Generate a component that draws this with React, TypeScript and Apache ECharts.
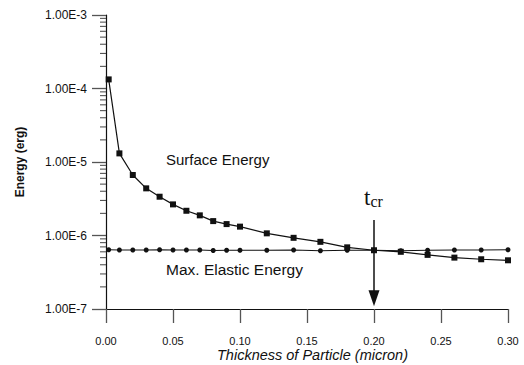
import React, { useEffect, useRef } from "react";
import * as echarts from "echarts";

const thickness = [0.002, 0.01, 0.02, 0.03, 0.04, 0.05, 0.06, 0.07, 0.08, 0.09, 0.1, 0.12, 0.14, 0.16, 0.18, 0.2, 0.22, 0.24, 0.26, 0.28, 0.3];
const surfaceEnergy = [1.33e-4, 1.31e-5, 6.65e-6, 4.38e-6, 3.37e-6, 2.65e-6, 2.17e-6, 1.88e-6, 1.57e-6, 1.43e-6, 1.32e-6, 1.07e-6, 9.3e-7, 8.2e-7, 6.9e-7, 6.3e-7, 6.0e-7, 5.45e-7, 5.0e-7, 4.75e-7, 4.6e-7];
const elasticEnergy = [6.4e-7, 6.35e-7, 6.35e-7, 6.35e-7, 6.4e-7, 6.35e-7, 6.35e-7, 6.35e-7, 6.25e-7, 6.3e-7, 6.3e-7, 6.3e-7, 6.35e-7, 6.2e-7, 6.3e-7, 6.3e-7, 6.2e-7, 6.3e-7, 6.35e-7, 6.35e-7, 6.4e-7];
const yMinorTickValues: number[] = [];
for (let e = -7; e < -3; e++) {
  for (let m = 2; m <= 9; m++) yMinorTickValues.push(m * Math.pow(10, e));
}
const arrowFrom = [0.2, 1.63e-6];
const arrowTo = [0.2, 1.4e-7];

const FONT = "Liberation Sans, Arial, sans-serif";
const INK = "#111111";
const TICK = "#555555";

export default function App() {
  const ref = useRef<HTMLDivElement>(null);
  useEffect(() => {
    const chart = echarts.init(ref.current!, null, { renderer: "svg" });
    chart.setOption({
      animation: false,
      grid: { left: 106, right: 16, top: 15, bottom: 56 },
      xAxis: {
        type: "value",
        min: 0,
        max: 0.3,
        interval: 0.05,
        axisLine: { show: true, lineStyle: { color: INK, width: 1.2 } },
        axisTick: { show: true, length: 14, lineStyle: { color: TICK, width: 1.3 } },
        splitLine: { show: false },
        axisLabel: {
          margin: 26,
          color: INK,
          fontFamily: FONT,
          fontSize: 11,
          formatter: (v: number) => v.toFixed(2),
        },
      },
      yAxis: {
        type: "log",
        logBase: 10,
        min: 1e-7,
        max: 1e-3,
        axisLine: { show: true, lineStyle: { color: INK, width: 1.2 } },
        axisTick: { show: true, length: 14, lineStyle: { color: TICK, width: 1.3 } },
        splitLine: { show: false },
        axisLabel: {
          margin: 19,
          color: INK,
          fontFamily: FONT,
          fontSize: 12,
          formatter: (v: number) => "1.00E-" + Math.abs(Math.round(Math.log10(v))),
        },
        name: "Energy (erg)",
        nameLocation: "middle",
        nameGap: 80,
        nameRotate: 90,
        nameTextStyle: { color: INK, fontFamily: FONT, fontSize: 12, fontWeight: "bold" },
      },
      graphic: [
        {
          type: "text",
          left: 217,
          top: 347,
          style: { text: "Thickness of Particle (micron)", fontFamily: FONT, fontSize: 14.5, fontStyle: "italic", fill: INK },
        },
        {
          type: "text",
          left: 166,
          top: 152,
          style: { text: "Surface Energy", fontFamily: FONT, fontSize: 15, fill: INK },
        },
        {
          type: "text",
          left: 166,
          top: 261,
          style: { text: "Max. Elastic Energy", fontFamily: FONT, fontSize: 15.5, fill: INK },
        },
        {
          type: "text",
          left: 364,
          top: 186,
          style: {
            text: "{t|t}{c|cr}",
            rich: {
              t: { fontFamily: "Liberation Serif, serif", fontSize: 23, fill: INK, verticalAlign: "bottom" },
              c: { fontFamily: "Liberation Serif, serif", fontSize: 16, fill: INK, verticalAlign: "bottom" },
            },
          },
        },
      ],
      series: [
        {
          name: "Surface Energy",
          type: "line",
          data: thickness.map((x, i) => [x, surfaceEnergy[i]]),
          symbol: "rect",
          symbolSize: 6,
          lineStyle: { color: INK, width: 1.2 },
          itemStyle: { color: INK },
        },
        {
          name: "Max. Elastic Energy",
          type: "line",
          data: thickness.map((x, i) => [x, elasticEnergy[i]]),
          symbol: "circle",
          symbolSize: 5,
          lineStyle: { color: INK, width: 1.2 },
          itemStyle: { color: INK },
          markLine: {
            silent: true,
            animation: false,
            symbol: ["none", "triangle"],
            symbolSize: [11, 16],
            label: { show: false },
            lineStyle: { color: INK, width: 1.5, type: "solid" },
            data: [[{ coord: arrowFrom }, { coord: arrowTo }]],
          },
        },
        {
          name: "yMinorTicks",
          type: "custom",
          clip: false,
          silent: true,
          data: yMinorTickValues.map((v) => [0, v]),
          renderItem: (params: any, api: any) => {
            const p = api.coord([0, api.value(1)]);
            return {
              type: "line",
              shape: { x1: p[0] - 6, y1: p[1], x2: p[0], y2: p[1] },
              style: { stroke: TICK, lineWidth: 1.1 },
            };
          },
        },
      ],
    });
    return () => chart.dispose();
  }, []);
  return (
    <div
      ref={ref}
      style={{ position: "fixed", left: 0, top: 0, width: 524, height: 365, background: "#fff" }}
    />
  );
}
